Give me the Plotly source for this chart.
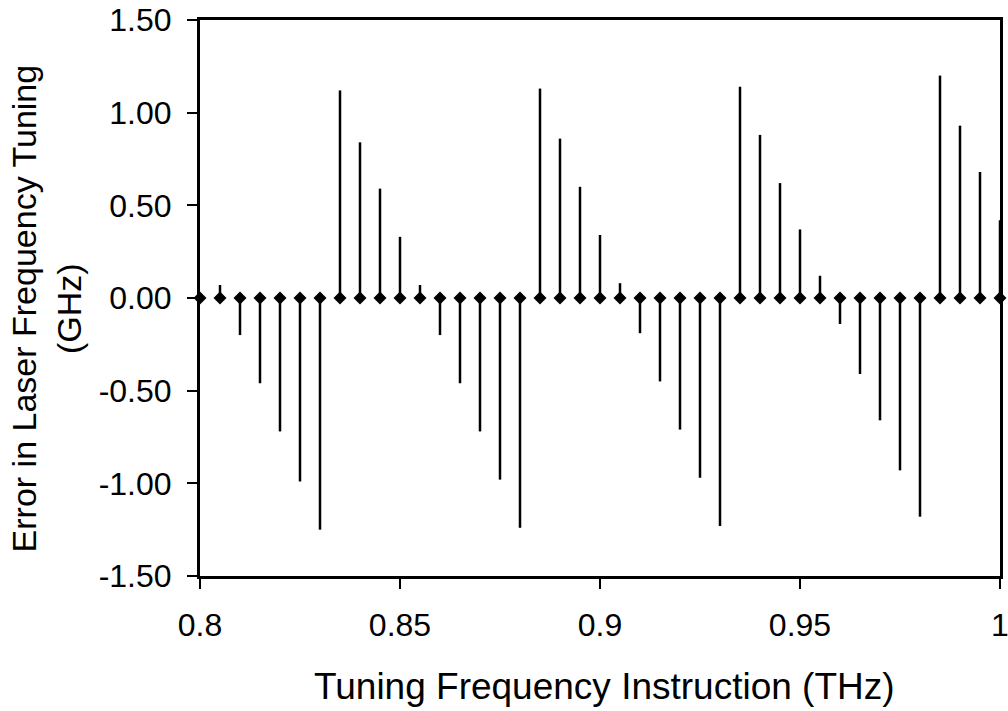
import plotly.graph_objects as go

# Tuning frequency instruction (THz)
freq = [0.800, 0.805, 0.810, 0.815, 0.820, 0.825, 0.830, 0.835, 0.840, 0.845,
        0.850, 0.855, 0.860, 0.865, 0.870, 0.875, 0.880, 0.885, 0.890, 0.895,
        0.900, 0.905, 0.910, 0.915, 0.920, 0.925, 0.930, 0.935, 0.940, 0.945,
        0.950, 0.955, 0.960, 0.965, 0.970, 0.975, 0.980, 0.985, 0.990, 0.995,
        1.000]
# Error in laser frequency tuning (GHz)
error = [0.00, 0.07, -0.20, -0.46, -0.72, -0.99, -1.25, 1.12, 0.84, 0.59,
         0.33, 0.07, -0.20, -0.46, -0.72, -0.98, -1.24, 1.13, 0.86, 0.60,
         0.34, 0.08, -0.19, -0.45, -0.71, -0.97, -1.23, 1.14, 0.88, 0.62,
         0.37, 0.12, -0.14, -0.41, -0.66, -0.93, -1.18, 1.20, 0.93, 0.68,
         0.42]

x_tickvals = [0.8, 0.85, 0.9, 0.95, 1.0]
x_ticktext = ["0.8", "0.85", "0.9", "0.95", "1"]
y_tickvals = [-1.5, -1.0, -0.5, 0.0, 0.5, 1.0, 1.5]
y_ticktext = ["-1.50", "-1.00", "-0.50", "0.00", "0.50", "1.00", "1.50"]

x_title = "Tuning Frequency Instruction (THz)"
y_title = "Error in Laser Frequency Tuning<br>(GHz)"

plus = [v if v > 0 else 0 for v in error]
minus = [-v if v < 0 else 0 for v in error]

FONT = "Liberation Sans, Arial, sans-serif"

fig = go.Figure()
fig.add_trace(go.Scatter(
    x=freq, y=[0] * len(freq), mode="markers",
    marker=dict(symbol="diamond", size=10, color="black"),
    error_y=dict(type="data", symmetric=False, array=plus, arrayminus=minus,
                 color="black", thickness=2.5, width=0),
    cliponaxis=False, showlegend=False,
))

axis_common = dict(showgrid=False, zeroline=False, showline=True,
                   linecolor="black", linewidth=3, mirror=True,
                   ticks="outside", ticklen=10, tickwidth=2,
                   tickcolor="black", ticklabelstandoff=9,
                   ticklabeloverflow="allow",
                   automargin=False, tickfont=dict(size=32, family=FONT))

fig.update_layout(
    width=1008, height=711,
    margin=dict(l=200, r=8, t=20, b=135),
    paper_bgcolor="white", plot_bgcolor="white",
    font=dict(family=FONT, color="black", size=32),
    xaxis=dict(range=[0.8, 1.0], tickvals=x_tickvals, ticktext=x_ticktext,
               **axis_common),
    yaxis=dict(range=[-1.5, 1.5], tickvals=y_tickvals, ticktext=y_ticktext,
               **axis_common),
    annotations=[
        dict(text=x_title, xref="paper", yref="paper", x=0.505, y=-0.198,
             xanchor="center", yanchor="middle", showarrow=False,
             font=dict(size=37, family=FONT, color="black")),
        dict(text=y_title, xref="paper", yref="paper", x=-0.192, y=0.482,
             xanchor="center", yanchor="middle", textangle=-90, showarrow=False,
             font=dict(size=34, family=FONT, color="black")),
    ],
)

fig.write_html("out.html")
